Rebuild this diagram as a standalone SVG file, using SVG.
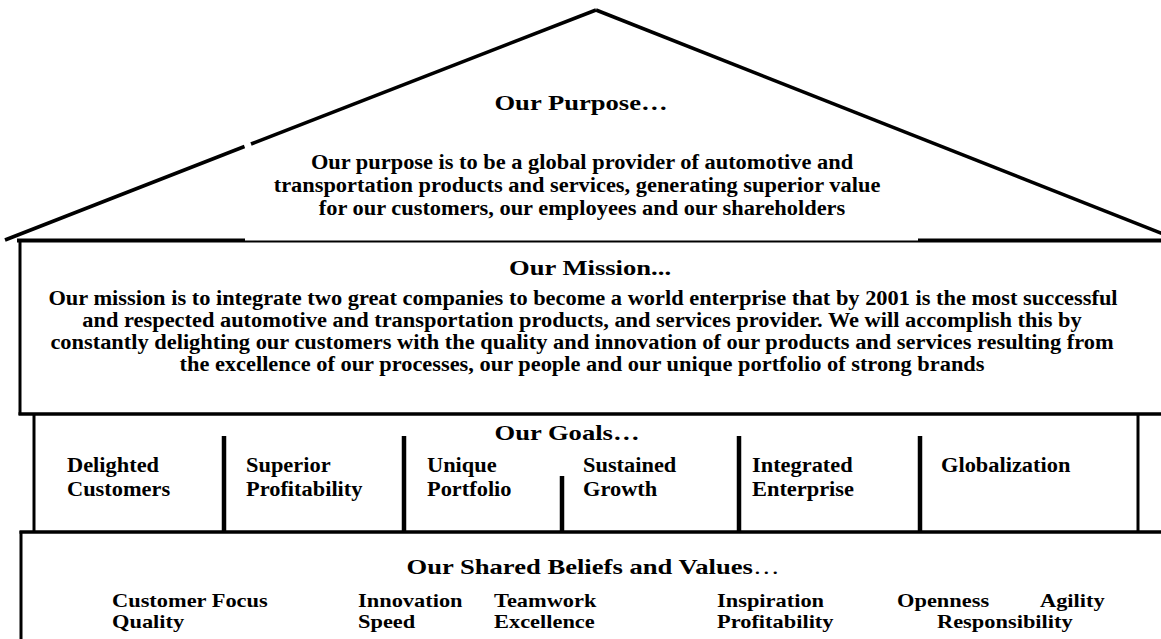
<svg xmlns="http://www.w3.org/2000/svg" width="1161" height="639" viewBox="0 0 1161 639">
<style>
.ln{stroke:#000;fill:none;stroke-linecap:butt}
.t{font-family:"Liberation Serif","Times New Roman",serif;font-weight:bold;font-size:20px;fill:#000}
.h{font-size:22px}
.s{font-size:18px}
.m{text-anchor:middle}
.n{font-weight:normal}
</style>
<rect width="1161" height="639" fill="#fff"/>
<g id="roof">
<line class="ln" x1="5" y1="240" x2="244.5" y2="146.5" stroke-width="3.5"/>
<line class="ln" x1="251" y1="144" x2="596" y2="10" stroke-width="3.5"/>
<line class="ln" x1="596" y1="10" x2="1185" y2="242.5" stroke-width="3.5"/>
</g>
<g id="purpose">
<text class="t h m" transform="translate(581,110) scale(1.21,1)">Our Purpose…</text>
<text class="t m" transform="translate(582,169) scale(1.12,1)">Our purpose is to be a global provider of automotive and</text>
<text class="t m" transform="translate(577,192) scale(1.12,1)">transportation products and services, generating superior value</text>
<text class="t m" transform="translate(582,215) scale(1.12,1)">for our customers, our employees and our shareholders</text>
</g>
<g id="mission">
<line class="ln" x1="17" y1="240.5" x2="245" y2="240.5" stroke-width="4"/>
<line class="ln" x1="245" y1="241.5" x2="918" y2="241.5" stroke-width="2.2"/>
<line class="ln" x1="918" y1="240.5" x2="1161" y2="240.5" stroke-width="4"/>
<line class="ln" x1="20" y1="239" x2="20" y2="415" stroke-width="3"/>
<line class="ln" x1="18.5" y1="414" x2="1161" y2="414" stroke-width="3.5"/>
<text class="t h m" transform="translate(590,275) scale(1.21,1)">Our Mission...</text>
<text class="t m" transform="translate(583,305) scale(1.12,1)">Our mission is to integrate two great companies to become a world enterprise that by 2001 is the most successful</text>
<text class="t m" transform="translate(582,327) scale(1.12,1)">and respected automotive and transportation products, and services provider. We will accomplish this by</text>
<text class="t m" transform="translate(582,349) scale(1.12,1)">constantly delighting our customers with the quality and innovation of our products and services resulting from</text>
<text class="t m" transform="translate(582,371) scale(1.12,1)">the excellence of our processes, our people and our unique portfolio of strong brands</text>
</g>
<g id="goals">
<line class="ln" x1="34" y1="414" x2="34" y2="532" stroke-width="3"/>
<line class="ln" x1="1138" y1="414" x2="1138" y2="532" stroke-width="3"/>
<line class="ln" x1="224" y1="436" x2="224" y2="532" stroke-width="4.5"/>
<line class="ln" x1="404" y1="436" x2="404" y2="532" stroke-width="4.5"/>
<line class="ln" x1="562" y1="476" x2="562" y2="532" stroke-width="4.5"/>
<line class="ln" x1="739" y1="436" x2="739" y2="532" stroke-width="4.5"/>
<line class="ln" x1="920" y1="436" x2="920" y2="532" stroke-width="4.5"/>
<text class="t h m" transform="translate(567,440) scale(1.21,1)">Our Goals…</text>
<g id="goal-1"><text class="t" transform="translate(67,472) scale(1.12,1)"><tspan x="0" y="0">Delighted</tspan><tspan x="0" y="24">Customers</tspan></text></g>
<g id="goal-2"><text class="t" transform="translate(246,472) scale(1.12,1)"><tspan x="0" y="0">Superior</tspan><tspan x="0" y="24">Profitability</tspan></text></g>
<g id="goal-3"><text class="t" transform="translate(427,472) scale(1.12,1)"><tspan x="0" y="0">Unique</tspan><tspan x="0" y="24">Portfolio</tspan></text></g>
<g id="goal-4"><text class="t" transform="translate(583,472) scale(1.12,1)"><tspan x="0" y="0">Sustained</tspan><tspan x="0" y="24">Growth</tspan></text></g>
<g id="goal-5"><text class="t" transform="translate(752,472) scale(1.12,1)"><tspan x="0" y="0">Integrated</tspan><tspan x="0" y="24">Enterprise</tspan></text></g>
<g id="goal-6"><text class="t" transform="translate(941,472) scale(1.12,1)">Globalization</text></g>
</g>
<g id="beliefs">
<line class="ln" x1="19.5" y1="532" x2="1161" y2="532" stroke-width="3.5"/>
<line class="ln" x1="21" y1="531" x2="21" y2="639" stroke-width="3"/>
<text class="t h m" transform="translate(593,574) scale(1.21,1)">Our Shared Beliefs and Values<tspan class="n">…</tspan></text>
<text class="t s" transform="translate(112,607) scale(1.245,1)"><tspan x="0" y="0">Customer Focus</tspan><tspan x="0" y="21">Quality</tspan></text>
<text class="t s" transform="translate(358,607) scale(1.245,1)"><tspan x="0" y="0">Innovation</tspan><tspan x="0" y="21">Speed</tspan></text>
<text class="t s" transform="translate(494,607) scale(1.245,1)"><tspan x="0" y="0">Teamwork</tspan><tspan x="0" y="21">Excellence</tspan></text>
<text class="t s" transform="translate(717,607) scale(1.245,1)"><tspan x="0" y="0">Inspiration</tspan><tspan x="0" y="21">Profitability</tspan></text>
<text class="t s" transform="translate(897,607) scale(1.245,1)">Openness</text>
<text class="t s" transform="translate(1040,607) scale(1.245,1)">Agility</text>
<text class="t s" transform="translate(937,628) scale(1.245,1)">Responsibility</text>
</g>
</svg>
